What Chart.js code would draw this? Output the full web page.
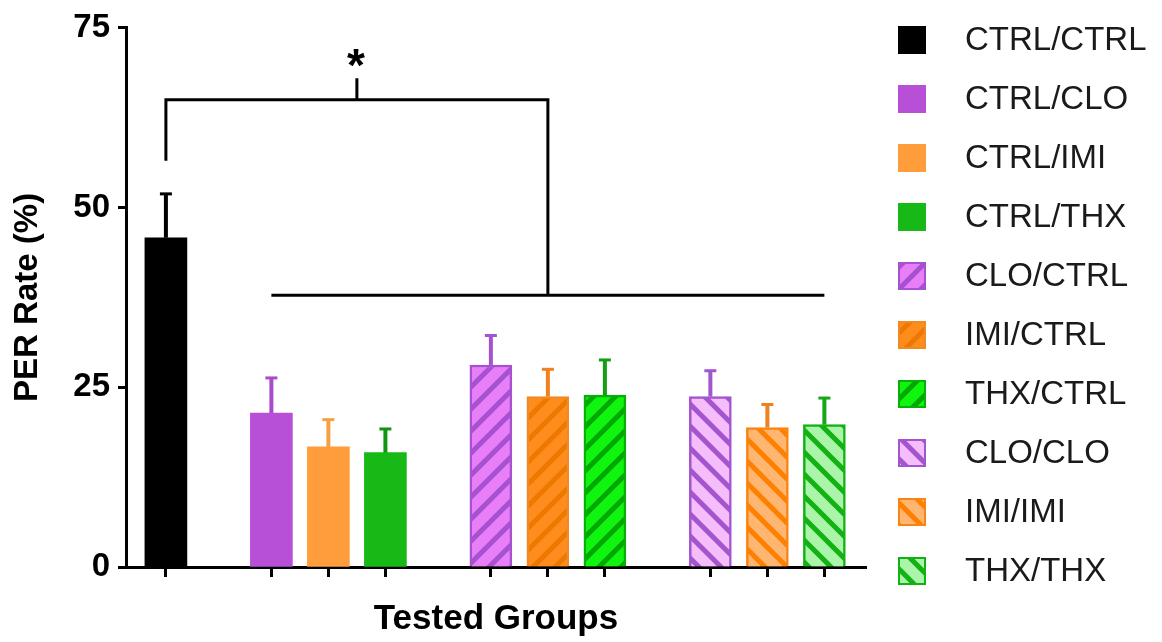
<!DOCTYPE html>
<html>
<head>
<meta charset="utf-8">
<script src="https://cdn.jsdelivr.net/npm/chart.js@4/dist/chart.umd.min.js"></script>
<style>
  html, body { margin: 0; padding: 0; background: #fff; }
  #wrap { width: 1162px; height: 642px; }
</style>
</head>
<body>
<div id="wrap"><canvas id="perChart"></canvas></div>
<script>
// data
const groupNames = ['CTRL/CTRL', 'CTRL/CLO', 'CTRL/IMI', 'CTRL/THX', 'CLO/CTRL',
                    'IMI/CTRL', 'THX/CTRL', 'CLO/CLO', 'IMI/IMI', 'THX/THX'];
const perRate = [45.8, 21.4, 16.7, 15.9, 28.1, 23.7, 23.9, 23.7, 19.4, 19.8];
const perError = [6.1, 4.9, 3.8, 3.3, 4.1, 3.8, 4.9, 3.6, 3.2, 3.7];
const clusterOf = [0, 1, 1, 1, 2, 2, 2, 3, 3, 3];
const yTicks = [0, 25, 50, 75];
// significance bracket levels (y values)
const sigLegBottom = 56.5;
const sigTop = 65;
const sigStarTick = 68;
const sigGroupLine = 37.8;

const clusterGap = 0.85;
const xPos = groupNames.map((n, i) => i + clusterGap * clusterOf[i]);

function hatch(bg, fg, dir) {
    const s = 22;
    const c = document.createElement('canvas');
    c.width = s; c.height = s;
    const g = c.getContext('2d');
    g.fillStyle = bg;
    g.fillRect(0, 0, s, s);
    g.strokeStyle = fg;
    g.lineWidth = 5;
    g.beginPath();
    if (dir > 0) {
        g.moveTo(0, s); g.lineTo(s, 0);
        g.moveTo(-s / 2, s / 2); g.lineTo(s / 2, -s / 2);
        g.moveTo(s / 2, s * 1.5); g.lineTo(s * 1.5, s / 2);
    } else {
        g.moveTo(0, 0); g.lineTo(s, s);
        g.moveTo(-s / 2, s / 2); g.lineTo(s / 2, s * 1.5);
        g.moveTo(s / 2, -s / 2); g.lineTo(s * 1.5, s / 2);
    }
    g.stroke();
    return g.createPattern(c, 'repeat');
}

const fills = [
    '#000000', '#b84fd7', '#ff9d3c', '#16b916',
    hatch('#e87ef8', '#a651cf', 1), hatch('#ff8d1e', '#ee7800', 1), hatch('#10f510', '#03a703', 1),
    hatch('#f6bdfc', '#a355cf', -1), hatch('#ffb670', '#ff8000', -1), hatch('#aaf5aa', '#12b212', -1)
];
const edges = ['#000000', '#b84fd7', '#ff9d3c', '#16b916',
               '#a651cf', '#f18a22', '#06b006', '#a355cf', '#fb8410', '#12b212'];
const errColors = ['#000000', '#a94ccc', '#f7a042', '#0f960f',
                   '#a651cf', '#f08020', '#11a011', '#a355cf', '#f08020', '#14a814'];
const hatched = [false, false, false, false, true, true, true, true, true, true];

Chart.defaults.font.family = '"Liberation Sans", Arial, sans-serif';
Chart.defaults.color = '#000';

const datasets = groupNames.map((name, i) => ({
    label: name,
    data: [{ x: xPos[i], y: perRate[i] }],
    err: perError[i],
    backgroundColor: fills[i],
    borderColor: edges[i],
    borderWidth: hatched[i] ? 2.5 : 0,
    barThickness: 42,
    grouped: false
}));

const errorBars = {
    id: 'errorBars',
    afterDatasetsDraw(chart) {
        const ctx = chart.ctx;
        const y = chart.scales.y;
        ctx.save();
        chart.data.datasets.forEach((ds, i) => {
            const bar = chart.getDatasetMeta(i).data[0];
            const top = y.getPixelForValue(ds.data[0].y + ds.err);
            ctx.strokeStyle = errColors[i];
            ctx.lineWidth = 4;
            ctx.beginPath();
            ctx.moveTo(bar.x, bar.y);
            ctx.lineTo(bar.x, top);
            ctx.stroke();
            ctx.lineWidth = 3;
            ctx.beginPath();
            ctx.moveTo(bar.x - 6, top);
            ctx.lineTo(bar.x + 6, top);
            ctx.stroke();
        });
        ctx.restore();
    }
};

const bracket = {
    id: 'bracket',
    afterDatasetsDraw(chart) {
        const ctx = chart.ctx;
        const x = chart.scales.x, y = chart.scales.y;
        const xl = x.getPixelForValue(xPos[0]);
        const xa = x.getPixelForValue(xPos[1]);
        const xb = x.getPixelForValue(xPos[9]);
        const xr = (xa + xb) / 2;
        const xm = (xl + xr) / 2;
        ctx.save();
        ctx.strokeStyle = '#000';
        ctx.lineWidth = 3;
        ctx.beginPath();
        ctx.moveTo(xl, y.getPixelForValue(sigLegBottom));
        ctx.lineTo(xl, y.getPixelForValue(sigTop));
        ctx.lineTo(xr, y.getPixelForValue(sigTop));
        ctx.lineTo(xr, y.getPixelForValue(sigGroupLine));
        ctx.moveTo(xa, y.getPixelForValue(sigGroupLine));
        ctx.lineTo(xb, y.getPixelForValue(sigGroupLine));
        ctx.moveTo(xm, y.getPixelForValue(sigTop));
        ctx.lineTo(xm, y.getPixelForValue(sigStarTick));
        ctx.stroke();
        ctx.fillStyle = '#000';
        ctx.font = 'bold 46px "Liberation Sans", Arial, sans-serif';
        ctx.textAlign = 'center';
        ctx.textBaseline = 'alphabetic';
        ctx.fillText('*', xm - 1, y.getPixelForValue(sigStarTick) + 3);
        ctx.restore();
    }
};

const sideLegend = {
    id: 'sideLegend',
    afterDraw(chart) {
        const ctx = chart.ctx;
        ctx.save();
        ctx.font = '33px "Liberation Sans", Arial, sans-serif';
        ctx.textBaseline = 'middle';
        ctx.textAlign = 'left';
        chart.data.datasets.forEach((ds, i) => {
            const cy = 40 + i * 59;
            ctx.fillStyle = ds.backgroundColor;
            ctx.fillRect(898, cy - 14, 28, 28);
            if (ds.borderWidth) {
                ctx.strokeStyle = ds.borderColor;
                ctx.lineWidth = 2;
                ctx.strokeRect(899, cy - 13, 26, 26);
            }
            ctx.fillStyle = '#1a1a1a';
            ctx.fillText(ds.label, 965, cy + 1);
        });
        ctx.restore();
    }
};

new Chart(document.getElementById('perChart'), {
    type: 'bar',
    data: { datasets },
    options: {
        responsive: true,
        maintainAspectRatio: false,
        animation: false,
        layout: { padding: { top: 25, right: 296, left: 0, bottom: 0 } },
        plugins: {
            legend: { display: false },
            tooltip: { enabled: false }
        },
        scales: {
            x: {
                type: 'linear',
                offset: false,
                min: -0.70,
                max: 12.28,
                afterBuildTicks: (s) => { s.ticks = xPos.map(v => ({ value: v })); },
                afterFit: (s) => { s.height = 75; },
                ticks: { display: false },
                grid: {
                    display: true, drawOnChartArea: false, drawTicks: true, offset: false,
                    tickLength: 10, tickWidth: 3, tickColor: '#000'
                },
                border: { display: true, color: '#000', width: 3 },
                title: {
                    display: true,
                    text: 'Tested Groups',
                    color: '#000',
                    font: { size: 35, weight: 'bold' },
                    padding: { top: 0, bottom: 2 }
                }
            },
            y: {
                min: 0,
                max: 75,
                afterBuildTicks: (s) => { s.ticks = yTicks.map(v => ({ value: v })); },
                afterFit: (s) => { s.width = 126; },
                ticks: { color: '#000', padding: 8, font: { size: 33, weight: 'bold' } },
                grid: {
                    display: true, drawOnChartArea: false, drawTicks: true,
                    tickLength: 8, tickWidth: 3, tickColor: '#000'
                },
                border: { display: true, color: '#000', width: 3 },
                title: {
                    display: true,
                    text: 'PER Rate (%)',
                    color: '#000',
                    font: { size: 33, weight: 'bold' },
                    padding: { top: 8, bottom: 0 }
                }
            }
        }
    },
    plugins: [errorBars, bracket, sideLegend]
});
</script>
</body>
</html>
